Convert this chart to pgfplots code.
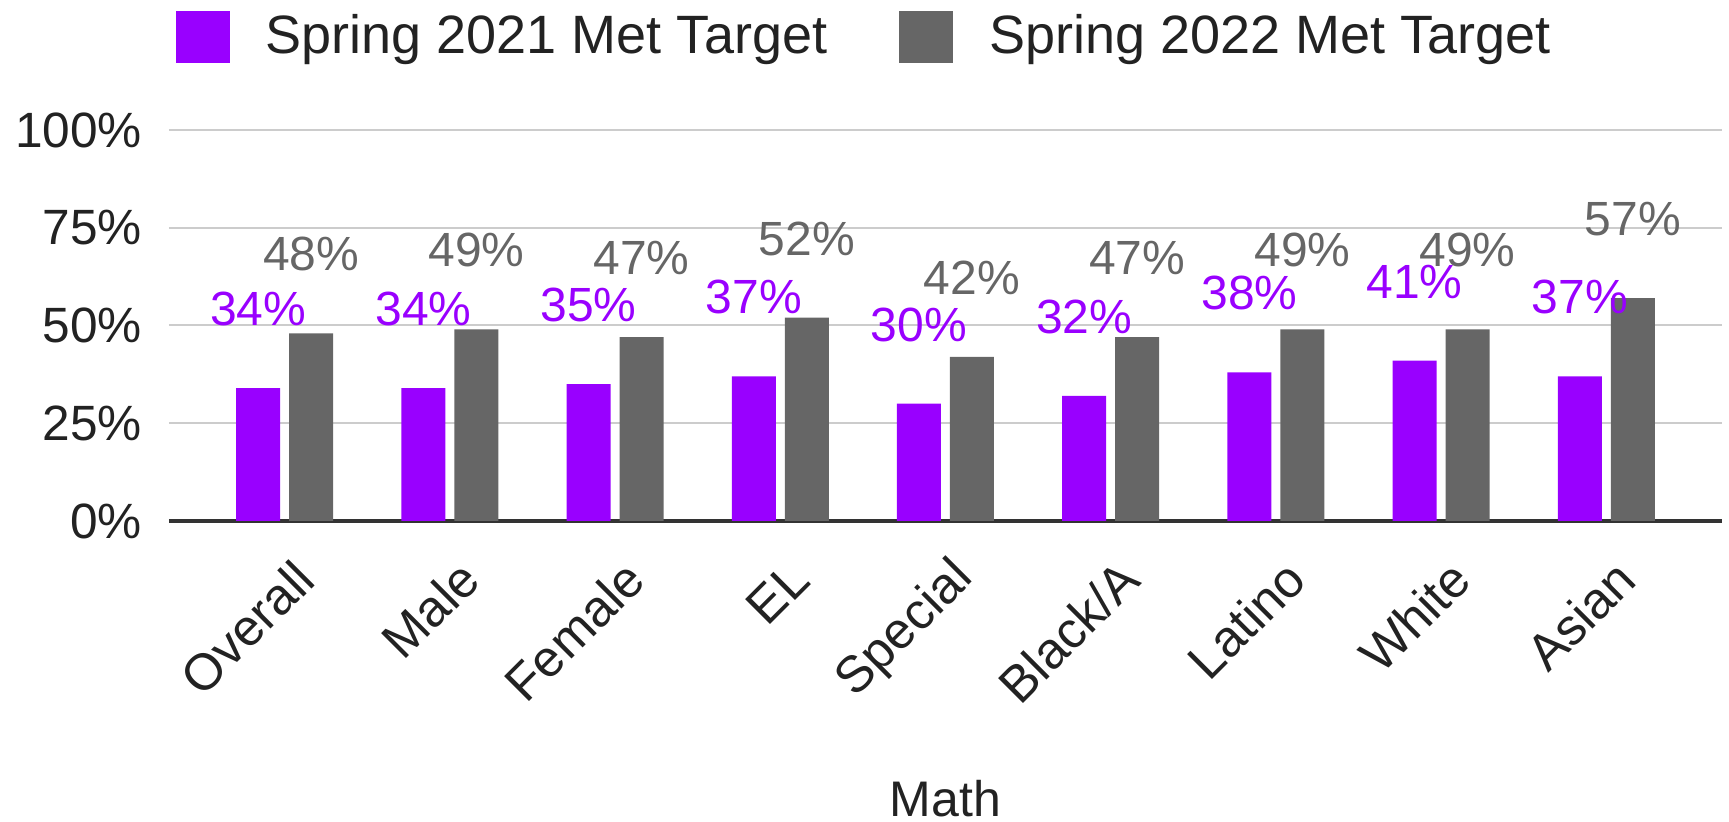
\documentclass[border=0pt]{standalone}
\usepackage{pgfplots}
\pgfplotsset{compat=1.18}
\usepackage{pgfplotstable}
\usepackage{fontspec}
\setmainfont{Liberation Sans}

\definecolor{sprpurple}{HTML}{9900FF}
\definecolor{sprgray}{HTML}{666666}
\definecolor{gridgray}{HTML}{CCCCCC}
\definecolor{axisdark}{HTML}{333333}
\definecolor{txt}{HTML}{222222}

\pgfplotsset{sqlegend/.style={legend image code/.code={\fill[##1,draw=none] (0pt,-6.5pt) rectangle (13.5pt,6.5pt);}}}

% Spring 2021 / Spring 2022, percent met target
\pgfplotstableread{
x y
0 34
1 34
2 35
3 37
4 30
5 32
6 38
7 41
8 37
}\springA
\pgfplotstableread{
x y
0 48
1 49
2 47
3 52
4 42
5 47
6 49
7 49
8 57
}\springB

\begin{document}
\begin{tikzpicture}
\begin{axis}[
  name=ax,
  scale only axis, width=388.25pt, height=97.75pt,
  ybar=2.25pt, bar width=11pt,
  xmin=-0.7, xmax=8.7, ymin=0, ymax=100,
  axis x line*=bottom, axis y line*=left,
  y axis line style={draw=none},
  x axis line style={axisdark, line width=0.8pt},
  major tick length=0pt,
  ymajorgrids, grid style={gridgray, line width=0.5pt},
  ytick={0,25,50,75,100},
  yticklabels={0\%,25\%,50\%,75\%,100\%},
  yticklabel style={font=\fontsize{12.4pt}{14pt}\selectfont, text=txt, xshift=-3.2pt},
  xtick={0,...,8},
  xticklabels={Overall,Male,Female,EL,Special,Black/A,Latino,White,Asian},
  xticklabel style={font=\fontsize{12.8pt}{14pt}\selectfont, text=txt, rotate=45,
    anchor=east, inner sep=0pt, xshift=-5.1pt, yshift=-12.2pt},
  xlabel={Math},
  xlabel style={font=\fontsize{12.5pt}{15pt}\selectfont, text=txt,
    at={(axis description cs:0.5,0)}, anchor=center, yshift=-69.5pt},
  nodes near coords={\pgfmathprintnumber[assume math mode=true]{\pgfplotspointmeta}\%},
  every node near coord/.append style={font=\fontsize{12pt}{14pt}\selectfont,
    anchor=center, yshift=19.75pt},
  legend columns=2,
  legend style={draw=none, fill=none, at={(0,1)}, anchor=west,
    xshift=1.5pt, yshift=23.25pt, inner sep=0pt,
    font=\fontsize{13.5pt}{16pt}\selectfont, text=txt,
    nodes={inner sep=0pt},
    /tikz/every odd column/.append style={column sep=9pt},
    /tikz/every even column/.append style={column sep=18pt}},
]
\addplot[fill=sprpurple, draw=none, sqlegend,
  every node near coord/.append style={text=sprpurple}] table {\springA};
\addlegendentry{Spring 2021 Met Target}
\addplot[fill=sprgray, draw=none, sqlegend,
  every node near coord/.append style={text=sprgray}] table {\springB};
\addlegendentry{Spring 2022 Met Target}
\end{axis}
\pgfresetboundingbox
\path (ax.south west) ++(-42.25pt,-75.25pt) rectangle ++(432.25pt,205.5pt);
\end{tikzpicture}
\end{document}
